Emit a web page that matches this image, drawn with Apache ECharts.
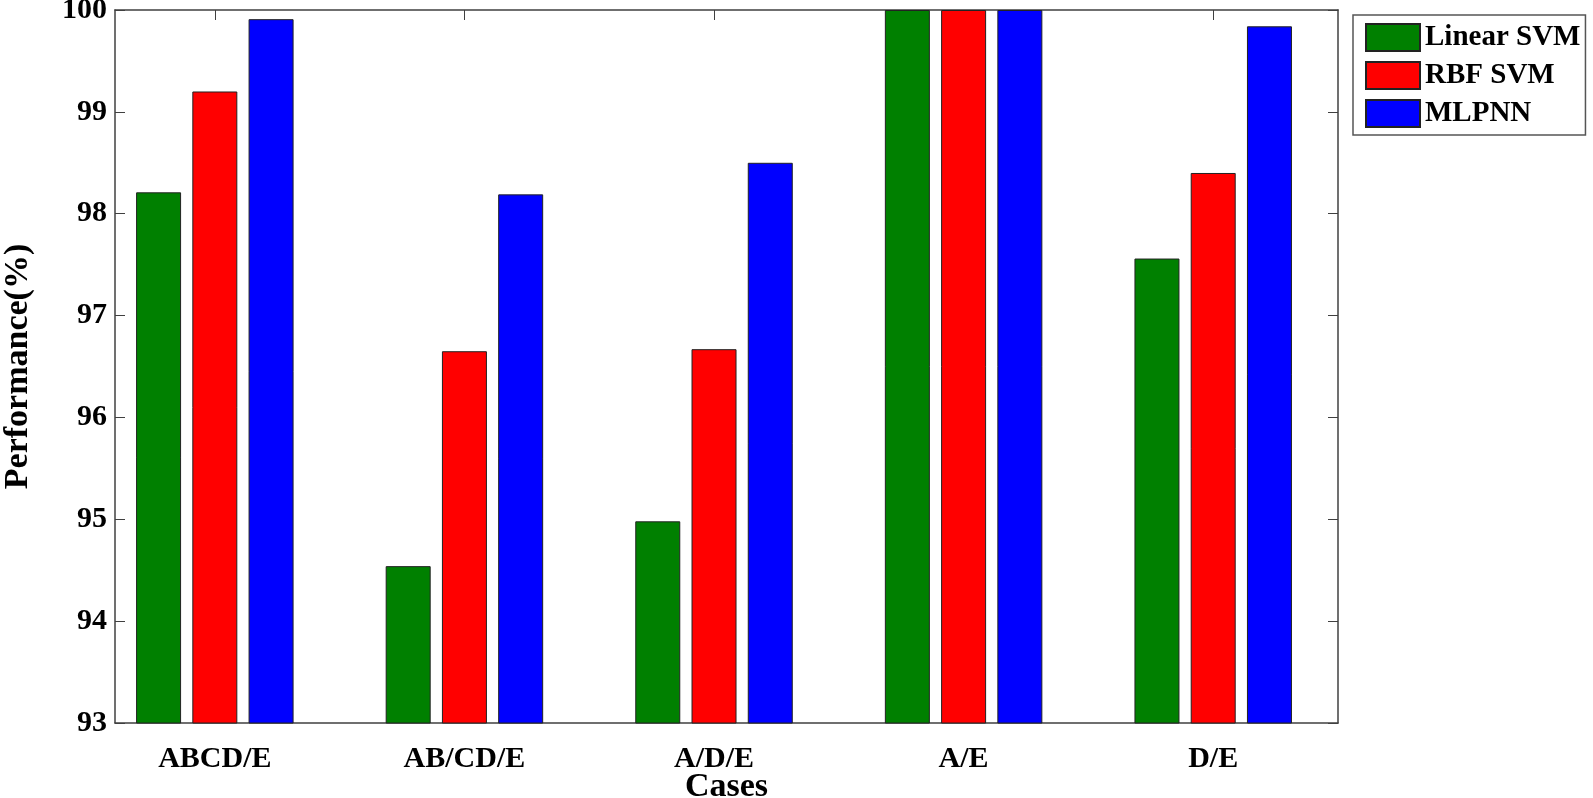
<!DOCTYPE html>
<html>
<head>
<meta charset="utf-8">
<script src="https://cdn.jsdelivr.net/npm/echarts@6/dist/echarts.min.js"></script>
<style>
html, body { margin: 0; padding: 0; background: #fff; }
#main { width: 1593px; height: 798px; }
</style>
</head>
<body>
<div id="main"></div>
<script>
// 数据
var cases = ['ABCD/E', 'AB/CD/E', 'A/D/E', 'A/E', 'D/E'];
var linearSvm = [98.21, 94.54, 94.98, 100, 97.56];
var rbfSvm = [99.20, 96.65, 96.67, 100, 98.40];
var mlpnn = [99.91, 98.19, 98.50, 100, 99.84];
var yTicks = [93, 94, 95, 96, 97, 98, 99, 100];

var font = 'Liberation Serif';
var caseIndex = [1, 2, 3, 4, 5];

// 类别放在数值轴的 1..5 位置上
var toPoints = function (values) {
	var pts = [];
	for (var i = 0; i < values.length; i++) {
		pts.push([i + 1, values[i]]);
	}
	return pts;
};

var myChart = echarts.init(document.getElementById('main'));

var frameLine = { show: true, lineStyle: { color: '#404040', width: 1.5 } };

var option = {
	backgroundColor: '#fff',
	animation: false,
	grid: {
		left: 115,
		right: 255,
		top: 10,
		bottom: 75,
		outerBoundsMode: 'none'
	},
	legend: {
		orient: 'vertical',
		left: 1353,
		top: 15,
		padding: [8, 5, 7, 12],
		itemWidth: 54,
		itemHeight: 27,
		itemGap: 9,
		icon: 'rect',
		borderColor: '#555',
		borderWidth: 1.5,
		backgroundColor: '#fff',
		textStyle: {
			fontFamily: font,
			fontWeight: 'bold',
			fontSize: 29,
			color: '#000'
		},
		data: ['Linear SVM', 'RBF SVM', 'MLPNN']
	},
	xAxis: [{
		type: 'value',
		min: 0.6,
		max: 5.5,
		name: 'Cases',
		nameLocation: 'middle',
		nameGap: 47,
		nameMoveOverlap: false,
		nameTextStyle: {
			fontFamily: font,
			fontWeight: 'bold',
			fontSize: 34,
			color: '#000'
		},
		axisLine: frameLine,
		axisTick: {
			show: true,
			inside: true,
			length: 10,
			customValues: caseIndex,
			lineStyle: { color: '#404040' }
		},
		axisLabel: {
			customValues: caseIndex,
			margin: 21,
			fontFamily: font,
			fontWeight: 'bold',
			fontSize: 30,
			color: '#000',
			formatter: function (v) {
				return cases[Math.round(v) - 1];
			}
		},
		splitLine: { show: false }
	}, {
		type: 'value',
		position: 'top',
		min: 0.6,
		max: 5.5,
		axisLine: frameLine,
		axisTick: {
			show: true,
			inside: true,
			length: 10,
			customValues: caseIndex,
			lineStyle: { color: '#404040' }
		},
		axisLabel: { show: false },
		splitLine: { show: false }
	}],
	yAxis: [{
		type: 'value',
		min: 93,
		max: 100,
		interval: 1,
		name: 'Performance(%)',
		nameLocation: 'middle',
		nameGap: 80,
		nameMoveOverlap: false,
		nameTextStyle: {
			fontFamily: font,
			fontWeight: 'bold',
			fontSize: 34,
			color: '#000'
		},
		axisLine: frameLine,
		axisTick: {
			show: true,
			inside: true,
			length: 10,
			customValues: yTicks,
			lineStyle: { color: '#404040' }
		},
		axisLabel: {
			margin: 8,
			fontFamily: font,
			fontWeight: 'bold',
			fontSize: 30,
			color: '#000'
		},
		splitLine: { show: false }
	}, {
		type: 'value',
		position: 'right',
		min: 93,
		max: 100,
		interval: 1,
		axisLine: frameLine,
		axisTick: {
			show: true,
			inside: true,
			length: 10,
			lineStyle: { color: '#404040' }
		},
		axisLabel: { show: false },
		splitLine: { show: false }
	}],
	series: [{
		name: 'Linear SVM',
		type: 'bar',
		barWidth: 45,
		barGap: '25%',
		itemStyle: { color: '#008000', borderColor: '#222', borderWidth: 1 },
		data: toPoints(linearSvm)
	}, {
		name: 'RBF SVM',
		type: 'bar',
		barWidth: 45,
		barGap: '25%',
		itemStyle: { color: '#ff0000', borderColor: '#222', borderWidth: 1 },
		data: toPoints(rbfSvm)
	}, {
		name: 'MLPNN',
		type: 'bar',
		barWidth: 45,
		barGap: '25%',
		itemStyle: { color: '#0000ff', borderColor: '#222', borderWidth: 1 },
		data: toPoints(mlpnn)
	}]
};

myChart.setOption(option);
</script>
</body>
</html>
